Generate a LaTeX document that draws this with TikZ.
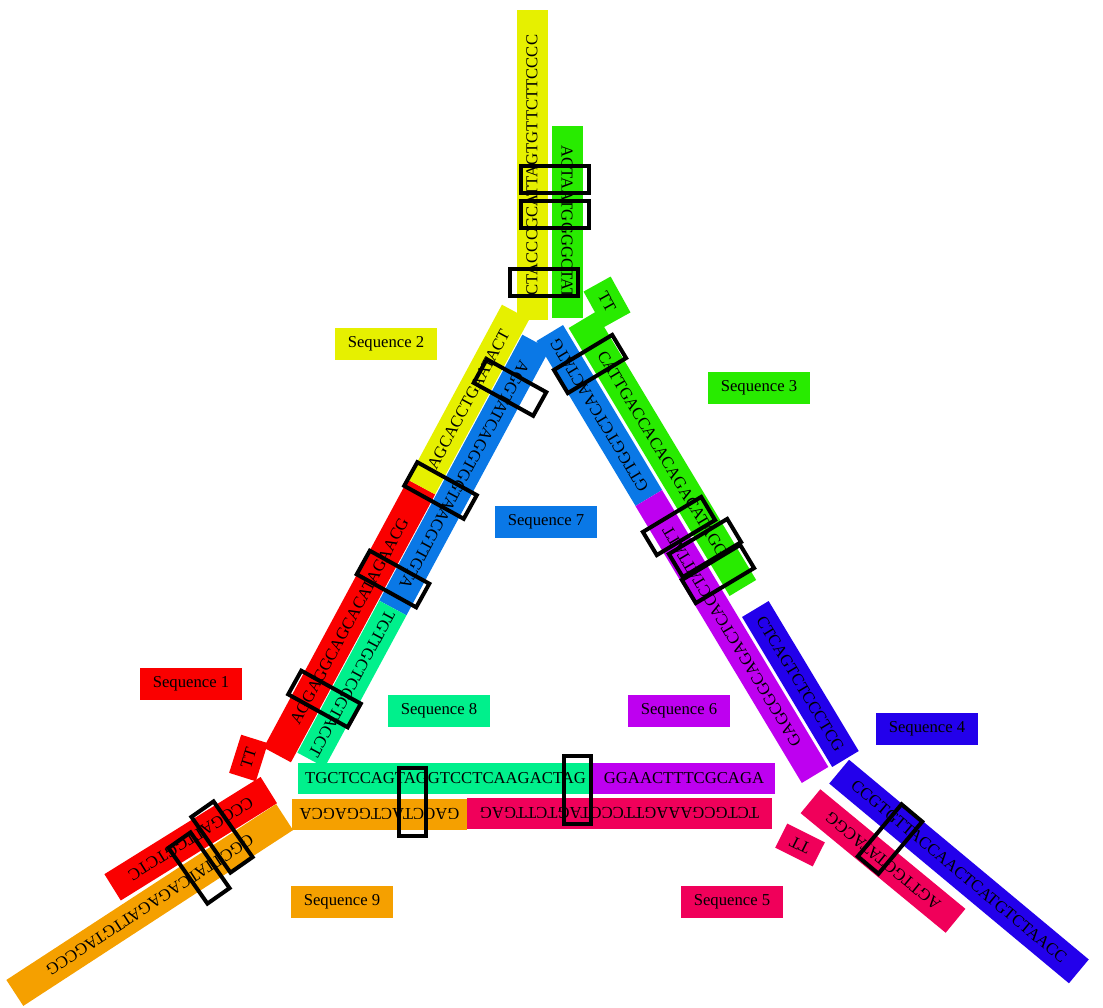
\documentclass[tikz,border=0pt]{standalone}
\usepackage{fontspec}
\setmainfont{Liberation Serif}
\definecolor{seqone}{RGB}{250,0,0}
\definecolor{seqtwo}{RGB}{230,240,0}
\definecolor{seqthree}{RGB}{40,235,0}
\definecolor{seqfour}{RGB}{35,0,235}
\definecolor{seqfive}{RGB}{240,0,90}
\definecolor{seqsix}{RGB}{190,0,240}
\definecolor{seqseven}{RGB}{10,120,230}
\definecolor{seqeight}{RGB}{0,240,140}
\definecolor{seqnine}{RGB}{245,160,0}

\begin{document}
\begin{tikzpicture}[
x=0.75pt, y=-0.75pt,
strand/.style={fill=#1, minimum height=23.25pt, inner sep=0pt, font=\fontsize{12.5}{15}\selectfont},
seqlabel/.style={fill=#1, minimum width=76.5pt, minimum height=24pt, inner sep=0pt, font=\fontsize{12.5}{15}\selectfont},
xover/.style={draw=black, line width=3pt, minimum width=51pt, minimum height=20.25pt, inner sep=0pt}
]
\useasboundingbox (0,0) rectangle (1103,1007);

% strands of the top helix
\node[strand=seqtwo, minimum width=232.5pt, rotate=90] (s2top) at (532,165) {CTACCCGCATTAGTGTTCTTCCCC};
\node[strand=seqthree, minimum width=144pt, rotate=-90] (s3top) at (567,222) {ACTAATGGGGCTAT};
\node[strand=seqthree, minimum width=30.75pt, rotate=-61] (s3tt) at (607,302) {TT};

% left arm
\node[strand=seqone, minimum width=228.2pt, rotate=61.7] (s1diag) at (349.4,621) {AGGAGGCAGCACATAGAACG};
\node[strand=seqtwo, minimum width=149pt, rotate=61.7] (s2diag) at (468.5,399.5) {AGCACCTGAATACT};
\node[strand=seqseven, minimum width=226.5pt, rotate=241.7] (s7left) at (464.4,475) {AGGTATCAGGTGGTAACGTTGTA};
\node[strand=seqeight, minimum width=129.45pt, rotate=241.7] (s8diag) at (351.9,684) {TGTTGCTCCGTACCT};

% right arm
\node[strand=seqthree, minimum width=234.4pt, rotate=-59] (s3diag) at (662.4,454) {CATTGACCACACAGACATAGG};
\node[strand=seqfour, minimum width=131.25pt, rotate=-59] (s4up) at (800.4,684) {CTCAGTCTCCCTCG};
\node[strand=seqseven, minimum width=144.3pt, rotate=121] (s7right) at (599.3,415.5) {GTTGGTCTCAACTATG};
\node[strand=seqsix, minimum width=242.25pt, rotate=121] (s6diag) at (731.9,636.5) {GAGCGGCAGACTCACCTATTATT};

% bottom helix
\node[strand=seqeight, minimum width=221.25pt] (s8bot) at (445.5,778) {TGCTCCAGTAGGTCCTCAAGACTAG};
\node[strand=seqsix, minimum width=136.5pt] (s6bot) at (684,778) {GGAACTTTCGCAGA};
\node[strand=seqnine, minimum width=131.25pt, rotate=180] (s9bot) at (379.5,814) {GACCTACTGGAGCA};
\node[strand=seqfive, minimum width=228.75pt, rotate=180] (s5bot) at (619.5,813) {TCTGCGAAAGTTCCCTAGTCTTGAG};

% lower left arm
\node[strand=seqone, minimum width=138pt, rotate=211.9] (s1low) at (190.7,838.7) {CCGGATTGGTCTC};
\node[strand=seqnine, minimum width=241.5pt, rotate=213.1] (s9low) at (149.7,905) {GGCTTATCAGAGATTGTAGCCG};
\node[strand=seqone, minimum width=30pt, minimum height=21pt, rotate=72.5] (s1tt) at (248.5,758) {TT};

% lower right arm
\node[strand=seqfour, minimum width=234pt, rotate=-39.8] (s4low) at (959,871.5) {CCGTGTTACCAACTCATGTCTAACC};
\node[strand=seqfive, minimum width=141pt, rotate=140.5] (s5diag) at (883,861) {AGTTGGTATACGG};
\node[strand=seqfive, minimum width=31.5pt, minimum height=20.25pt, rotate=153.4] (s5tt) at (800,845) {TT};

% labels
\node[seqlabel=seqone] (l1) at (191,684) {Sequence 1};
\node[seqlabel=seqtwo] (l2) at (386,344) {Sequence 2};
\node[seqlabel=seqthree] (l3) at (759,388) {Sequence 3};
\node[seqlabel=seqfour] (l4) at (927,729) {Sequence 4};
\node[seqlabel=seqfive] (l5) at (732,902) {Sequence 5};
\node[seqlabel=seqsix] (l6) at (679,711) {Sequence 6};
\node[seqlabel=seqseven] (l7) at (546,522) {Sequence 7};
\node[seqlabel=seqeight] (l8) at (439,711) {Sequence 8};
\node[seqlabel=seqnine] (l9) at (342,902) {Sequence 9};

% crossover boxes
\node[xover] (x1) at (555,179.5) {};
\node[xover] (x2) at (555,214) {};
\node[xover] (x3) at (543.5,282.5) {};
\node[xover, rotate=-29] (x4) at (510,387.5) {};
\node[xover, rotate=-29] (x5) at (440.5,490.5) {};
\node[xover, rotate=-29] (x6) at (393,579) {};
\node[xover, rotate=-29] (x7) at (324.5,699) {};
\node[xover, rotate=31] (x8) at (590,364) {};
\node[xover, rotate=31] (x9) at (679,526) {};
\node[xover, rotate=31] (x10) at (705,548) {};
\node[xover, rotate=31] (x11) at (718,574) {};
\node[xover, rotate=50] (x12) at (890,839) {};
\node[xover, rotate=90] (x13) at (412,801.5) {};
\node[xover, rotate=90] (x14) at (577,790) {};
\node[xover, rotate=-55] (x15) at (222,837) {};
\node[xover, rotate=-55] (x16) at (199,868) {};
\end{tikzpicture}
\end{document}
